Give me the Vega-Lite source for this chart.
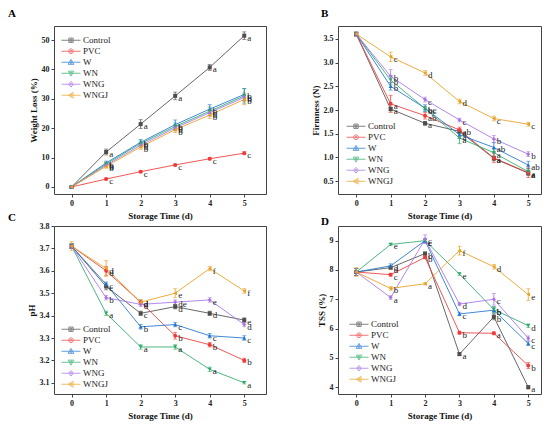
{
  "$schema": "https://vega.github.io/schema/vega-lite/v6.json",
  "padding": {"left": 7, "top": 7, "right": 0, "bottom": 0},
  "bounds": "flush",
  "columns": 2,
  "spacing": {"row": 32, "column": 72},
  "datasets": {
    "wl": [
      {"t": 0, "g": "Control", "v": 0, "e": 0.3, "l": ""},
      {"t": 1, "g": "Control", "v": 11.9, "e": 1.0, "l": "a"},
      {"t": 2, "g": "Control", "v": 21.4, "e": 1.5, "l": "a"},
      {"t": 3, "g": "Control", "v": 31.0, "e": 1.3, "l": "a"},
      {"t": 4, "g": "Control", "v": 40.7, "e": 1.0, "l": "a"},
      {"t": 5, "g": "Control", "v": 51.5, "e": 1.3, "l": "a"},
      {"t": 0, "g": "PVC", "v": 0, "e": 0.2, "l": ""},
      {"t": 1, "g": "PVC", "v": 2.7, "e": 0.3, "l": "c"},
      {"t": 2, "g": "PVC", "v": 5.2, "e": 0.3, "l": "c"},
      {"t": 3, "g": "PVC", "v": 7.5, "e": 0.3, "l": "c"},
      {"t": 4, "g": "PVC", "v": 9.6, "e": 0.4, "l": "c"},
      {"t": 5, "g": "PVC", "v": 11.5, "e": 0.5, "l": "c"},
      {"t": 0, "g": "W", "v": 0, "e": 0.2, "l": ""},
      {"t": 1, "g": "W", "v": 8.2, "e": 0.6, "l": "b"},
      {"t": 2, "g": "W", "v": 15.2, "e": 1.0, "l": "b"},
      {"t": 3, "g": "W", "v": 21.2, "e": 1.6, "l": "b"},
      {"t": 4, "g": "W", "v": 26.5, "e": 1.5, "l": "b"},
      {"t": 5, "g": "W", "v": 31.5, "e": 2.0, "l": "b"},
      {"t": 0, "g": "WN", "v": 0, "e": 0.2, "l": ""},
      {"t": 1, "g": "WN", "v": 7.8, "e": 0.6, "l": "b"},
      {"t": 2, "g": "WN", "v": 14.8, "e": 0.9, "l": "b"},
      {"t": 3, "g": "WN", "v": 20.6, "e": 1.2, "l": "b"},
      {"t": 4, "g": "WN", "v": 25.8, "e": 1.4, "l": "b"},
      {"t": 5, "g": "WN", "v": 31.0, "e": 2.5, "l": "b"},
      {"t": 0, "g": "WNG", "v": 0, "e": 0.2, "l": ""},
      {"t": 1, "g": "WNG", "v": 7.4, "e": 0.5, "l": "b"},
      {"t": 2, "g": "WNG", "v": 14.2, "e": 0.8, "l": "b"},
      {"t": 3, "g": "WNG", "v": 20.1, "e": 1.0, "l": "b"},
      {"t": 4, "g": "WNG", "v": 25.3, "e": 1.2, "l": "b"},
      {"t": 5, "g": "WNG", "v": 30.5, "e": 1.5, "l": "b"},
      {"t": 0, "g": "WNGJ", "v": 0, "e": 0.2, "l": ""},
      {"t": 1, "g": "WNGJ", "v": 7.0, "e": 0.6, "l": "b"},
      {"t": 2, "g": "WNGJ", "v": 13.6, "e": 0.8, "l": "b"},
      {"t": 3, "g": "WNGJ", "v": 19.5, "e": 1.0, "l": "b"},
      {"t": 4, "g": "WNGJ", "v": 24.5, "e": 1.2, "l": "b"},
      {"t": 5, "g": "WNGJ", "v": 29.8, "e": 1.8, "l": "b"}
    ],
    "fi": [
      {"t": 0, "g": "Control", "v": 3.6, "e": 0.04, "l": ""},
      {"t": 1, "g": "Control", "v": 2.02, "e": 0.04, "l": "a"},
      {"t": 2, "g": "Control", "v": 1.72, "e": 0.04, "l": "a"},
      {"t": 3, "g": "Control", "v": 1.55, "e": 0.05, "l": "a"},
      {"t": 4, "g": "Control", "v": 0.98, "e": 0.05, "l": "a"},
      {"t": 5, "g": "Control", "v": 0.67, "e": 0.05, "l": "a"},
      {"t": 0, "g": "PVC", "v": 3.6, "e": 0.04, "l": ""},
      {"t": 1, "g": "PVC", "v": 2.13, "e": 0.18, "l": "a"},
      {"t": 2, "g": "PVC", "v": 1.88, "e": 0.07, "l": "ab"},
      {"t": 3, "g": "PVC", "v": 1.58, "e": 0.06, "l": "ab"},
      {"t": 4, "g": "PVC", "v": 0.99, "e": 0.1, "l": "a"},
      {"t": 5, "g": "PVC", "v": 0.68, "e": 0.1, "l": "a"},
      {"t": 0, "g": "W", "v": 3.6, "e": 0.04, "l": ""},
      {"t": 1, "g": "W", "v": 2.5, "e": 0.08, "l": "b"},
      {"t": 2, "g": "W", "v": 2.04, "e": 0.07, "l": "bc"},
      {"t": 3, "g": "W", "v": 1.48, "e": 0.08, "l": "a"},
      {"t": 4, "g": "W", "v": 1.21, "e": 0.1, "l": "ab"},
      {"t": 5, "g": "W", "v": 0.84, "e": 0.08, "l": "ab"},
      {"t": 0, "g": "WN", "v": 3.6, "e": 0.04, "l": ""},
      {"t": 1, "g": "WN", "v": 2.63, "e": 0.1, "l": "b"},
      {"t": 2, "g": "WN", "v": 2.03, "e": 0.05, "l": "bc"},
      {"t": 3, "g": "WN", "v": 1.41, "e": 0.12, "l": "a"},
      {"t": 4, "g": "WN", "v": 1.1, "e": 0.08, "l": "a"},
      {"t": 5, "g": "WN", "v": 0.7, "e": 0.06, "l": "a"},
      {"t": 0, "g": "WNG", "v": 3.6, "e": 0.04, "l": ""},
      {"t": 1, "g": "WNG", "v": 2.71, "e": 0.14, "l": "b"},
      {"t": 2, "g": "WNG", "v": 2.22, "e": 0.05, "l": "c"},
      {"t": 3, "g": "WNG", "v": 1.79, "e": 0.04, "l": "c"},
      {"t": 4, "g": "WNG", "v": 1.39, "e": 0.07, "l": "b"},
      {"t": 5, "g": "WNG", "v": 1.07, "e": 0.05, "l": "b"},
      {"t": 0, "g": "WNGJ", "v": 3.6, "e": 0.04, "l": ""},
      {"t": 1, "g": "WNGJ", "v": 3.12, "e": 0.1, "l": "c"},
      {"t": 2, "g": "WNGJ", "v": 2.78, "e": 0.05, "l": "d"},
      {"t": 3, "g": "WNGJ", "v": 2.18, "e": 0.05, "l": "d"},
      {"t": 4, "g": "WNGJ", "v": 1.82, "e": 0.05, "l": "c"},
      {"t": 5, "g": "WNGJ", "v": 1.7, "e": 0.04, "l": "c"}
    ],
    "ph": [
      {"t": 0, "g": "Control", "v": 3.71, "e": 0.01, "l": ""},
      {"t": 1, "g": "Control", "v": 3.53, "e": 0.015, "l": "c"},
      {"t": 2, "g": "Control", "v": 3.41, "e": 0.01, "l": "c"},
      {"t": 3, "g": "Control", "v": 3.44, "e": 0.01, "l": "d"},
      {"t": 4, "g": "Control", "v": 3.41, "e": 0.01, "l": "d"},
      {"t": 5, "g": "Control", "v": 3.38, "e": 0.01, "l": "e"},
      {"t": 0, "g": "PVC", "v": 3.71, "e": 0.01, "l": ""},
      {"t": 1, "g": "PVC", "v": 3.6, "e": 0.02, "l": "d"},
      {"t": 2, "g": "PVC", "v": 3.46, "e": 0.01, "l": "d"},
      {"t": 3, "g": "PVC", "v": 3.31, "e": 0.015, "l": "b"},
      {"t": 4, "g": "PVC", "v": 3.27, "e": 0.01, "l": "b"},
      {"t": 5, "g": "PVC", "v": 3.2, "e": 0.01, "l": "b"},
      {"t": 0, "g": "W", "v": 3.71, "e": 0.01, "l": ""},
      {"t": 1, "g": "W", "v": 3.54, "e": 0.01, "l": "c"},
      {"t": 2, "g": "W", "v": 3.35, "e": 0.01, "l": "b"},
      {"t": 3, "g": "W", "v": 3.36, "e": 0.01, "l": "c"},
      {"t": 4, "g": "W", "v": 3.31, "e": 0.01, "l": "c"},
      {"t": 5, "g": "W", "v": 3.3, "e": 0.01, "l": "c"},
      {"t": 0, "g": "WN", "v": 3.71, "e": 0.01, "l": ""},
      {"t": 1, "g": "WN", "v": 3.41, "e": 0.01, "l": "a"},
      {"t": 2, "g": "WN", "v": 3.26, "e": 0.01, "l": "a"},
      {"t": 3, "g": "WN", "v": 3.26, "e": 0.01, "l": "a"},
      {"t": 4, "g": "WN", "v": 3.16, "e": 0.01, "l": "a"},
      {"t": 5, "g": "WN", "v": 3.1, "e": 0.005, "l": "a"},
      {"t": 0, "g": "WNG", "v": 3.71, "e": 0.01, "l": ""},
      {"t": 1, "g": "WNG", "v": 3.48, "e": 0.01, "l": "b"},
      {"t": 2, "g": "WNG", "v": 3.45, "e": 0.01, "l": "d"},
      {"t": 3, "g": "WNG", "v": 3.46, "e": 0.01, "l": "de"},
      {"t": 4, "g": "WNG", "v": 3.47, "e": 0.01, "l": "e"},
      {"t": 5, "g": "WNG", "v": 3.36, "e": 0.01, "l": "d"},
      {"t": 0, "g": "WNGJ", "v": 3.71, "e": 0.02, "l": ""},
      {"t": 1, "g": "WNGJ", "v": 3.61, "e": 0.035, "l": "d"},
      {"t": 2, "g": "WNGJ", "v": 3.46, "e": 0.01, "l": "d"},
      {"t": 3, "g": "WNGJ", "v": 3.5, "e": 0.02, "l": "e"},
      {"t": 4, "g": "WNGJ", "v": 3.61, "e": 0.01, "l": "f"},
      {"t": 5, "g": "WNGJ", "v": 3.51, "e": 0.01, "l": "f"}
    ],
    "tss": [
      {"t": 0, "g": "Control", "v": 7.93, "e": 0.12, "l": ""},
      {"t": 1, "g": "Control", "v": 8.08, "e": 0.05, "l": "d"},
      {"t": 2, "g": "Control", "v": 8.56, "e": 0.05, "l": "b"},
      {"t": 3, "g": "Control", "v": 5.13, "e": 0.05, "l": "a"},
      {"t": 4, "g": "Control", "v": 6.4, "e": 0.1, "l": "b"},
      {"t": 5, "g": "Control", "v": 4.0, "e": 0.05, "l": "a"},
      {"t": 0, "g": "PVC", "v": 7.93, "e": 0.12, "l": ""},
      {"t": 1, "g": "PVC", "v": 7.84, "e": 0.05, "l": "c"},
      {"t": 2, "g": "PVC", "v": 8.43, "e": 0.05, "l": "b"},
      {"t": 3, "g": "PVC", "v": 5.86, "e": 0.05, "l": "b"},
      {"t": 4, "g": "PVC", "v": 5.84, "e": 0.05, "l": "a"},
      {"t": 5, "g": "PVC", "v": 4.74, "e": 0.1, "l": "b"},
      {"t": 0, "g": "W", "v": 7.93, "e": 0.12, "l": ""},
      {"t": 1, "g": "W", "v": 8.14, "e": 0.07, "l": "d"},
      {"t": 2, "g": "W", "v": 9.0, "e": 0.08, "l": "c"},
      {"t": 3, "g": "W", "v": 6.5, "e": 0.06, "l": "c"},
      {"t": 4, "g": "W", "v": 6.63, "e": 0.1, "l": "b"},
      {"t": 5, "g": "W", "v": 5.49, "e": 0.06, "l": "c"},
      {"t": 0, "g": "WN", "v": 7.93, "e": 0.12, "l": ""},
      {"t": 1, "g": "WN", "v": 8.87, "e": 0.04, "l": "e"},
      {"t": 2, "g": "WN", "v": 9.0, "e": 0.05, "l": "c"},
      {"t": 3, "g": "WN", "v": 7.86, "e": 0.04, "l": "e"},
      {"t": 4, "g": "WN", "v": 6.65, "e": 0.1, "l": "b"},
      {"t": 5, "g": "WN", "v": 6.1, "e": 0.06, "l": "d"},
      {"t": 0, "g": "WNG", "v": 7.93, "e": 0.12, "l": ""},
      {"t": 1, "g": "WNG", "v": 7.06, "e": 0.06, "l": "a"},
      {"t": 2, "g": "WNG", "v": 9.05, "e": 0.15, "l": "c"},
      {"t": 3, "g": "WNG", "v": 6.84, "e": 0.06, "l": "d"},
      {"t": 4, "g": "WNG", "v": 7.0, "e": 0.2, "l": "c"},
      {"t": 5, "g": "WNG", "v": 5.67, "e": 0.08, "l": "c"},
      {"t": 0, "g": "WNGJ", "v": 7.93, "e": 0.15, "l": ""},
      {"t": 1, "g": "WNGJ", "v": 7.37, "e": 0.06, "l": "b"},
      {"t": 2, "g": "WNGJ", "v": 7.53, "e": 0.04, "l": "a"},
      {"t": 3, "g": "WNGJ", "v": 8.66, "e": 0.15, "l": "f"},
      {"t": 4, "g": "WNGJ", "v": 8.11, "e": 0.08, "l": "d"},
      {"t": 5, "g": "WNGJ", "v": 7.16, "e": 0.2, "l": "e"}
    ]
  },
  "concat": [
    {
      "width": 212, "height": 168,
      "title": {"text": "A", "anchor": "start", "frame": "group", "dx": -46, "offset": -2, "baseline": "alphabetic", "fontSize": 11, "font": "Liberation Serif", "fontWeight": "bold", "color": "#000"},
      "data": {"name": "wl"},
      "encoding": {
        "x": {"field": "t", "type": "quantitative", "scale": {"domain": [-0.51, 5.63], "nice": false, "zero": false}, "axis": {"values": [0, 1, 2, 3, 4, 5], "format": "d", "title": "Storage Time (d)"}},
        "y": {"field": "v", "type": "quantitative", "scale": {"domain": [-2.4, 54.8], "nice": false, "zero": false}, "axis": {"values": [0, 10, 20, 30, 40, 50], "title": "Weight Loss (%)"}}
      },
      "layer": [
        {"mark": {"type": "line", "strokeWidth": 1, "opacity": 0.85}, "encoding": {"color": {"field": "g", "type": "nominal", "scale": {"domain": ["Control", "PVC", "W", "WN", "WNG", "WNGJ"], "range": ["#4d4d4d", "#f03a3a", "#1f74d0", "#2eaa6a", "#a673e6", "#e8a020"]}, "legend": null}}},
        {"mark": {"type": "errorbar", "ticks": {"size": 4}, "thickness": 0.8}, "encoding": {"yError": {"field": "e"}, "color": {"field": "g", "type": "nominal", "scale": {"domain": ["Control", "PVC", "W", "WN", "WNG", "WNGJ"], "range": ["#4d4d4d", "#f03a3a", "#1f74d0", "#2eaa6a", "#a673e6", "#e8a020"]}, "legend": null}}},
        {"mark": {"type": "point", "filled": true, "size": 16, "opacity": 1}, "encoding": {"color": {"field": "g", "type": "nominal", "scale": {"domain": ["Control", "PVC", "W", "WN", "WNG", "WNGJ"], "range": ["#4d4d4d", "#f03a3a", "#1f74d0", "#2eaa6a", "#a673e6", "#e8a020"]}, "legend": null}, "shape": {"field": "g", "type": "nominal", "scale": {"domain": ["Control", "PVC", "W", "WN", "WNG", "WNGJ"], "range": ["square", "circle", "triangle-up", "triangle-down", "diamond", "triangle-left"]}, "legend": null}}},
        {"transform": [{"filter": "datum.l"}], "mark": {"type": "text", "align": "left", "baseline": "middle", "dx": 3, "dy": 2, "font": "Liberation Serif", "fontSize": 9, "color": "#222"}, "encoding": {"text": {"field": "l"}}},
        {
          "transform": [{"filter": "false"}],
          "mark": {"type": "point", "filled": false, "strokeWidth": 1},
          "encoding": {
            "color": {"field": "g", "type": "nominal", "scale": {"domain": ["Control", "PVC", "W", "WN", "WNG", "WNGJ"], "range": ["#4d4d4d", "#f03a3a", "#1f74d0", "#2eaa6a", "#a673e6", "#e8a020"]}, "legend": {"orient": "none", "legendX": 7, "legendY": 9, "title": null}},
            "shape": {"field": "g", "type": "nominal", "scale": {"domain": ["Control", "PVC", "W", "WN", "WNG", "WNGJ"], "range": ["M-1,0H1M-0.23,-0.23H0.23V0.23H-0.23ZM-0.1,-0.1H0.1V0.1H-0.1Z", "M-1,0H1M-0.25,0A0.25,0.25,0,1,0,0.25,0A0.25,0.25,0,1,0,-0.25,0ZM-0.1,0A0.1,0.1,0,1,0,0.1,0A0.1,0.1,0,1,0,-0.1,0Z", "M-1,0H1M0,-0.3L0.3,0.22L-0.3,0.22ZM0,-0.1L0.1,0.1L-0.1,0.1Z", "M-1,0H1M0,0.3L0.3,-0.22L-0.3,-0.22ZM0,0.1L0.1,-0.1L-0.1,-0.1Z", "M-1,0H1M0,-0.3L0.26,0L0,0.3L-0.26,0ZM0,-0.12L0.1,0L0,0.12L-0.1,0Z", "M-1,0H1M-0.3,0L0.22,-0.3L0.22,0.3ZM-0.1,0L0.1,-0.1L0.1,0.1Z"]}, "legend": {"orient": "none", "legendX": 7, "legendY": 9, "title": null}}
          }
        }
      ],
      "resolve": {"scale": {"shape": "independent", "color": "independent"}}
    },
    {
      "width": 203, "height": 168,
      "title": {"text": "B", "anchor": "start", "frame": "group", "dx": -17, "offset": -2, "baseline": "alphabetic", "fontSize": 11, "font": "Liberation Serif", "fontWeight": "bold", "color": "#000"},
      "data": {"name": "fi"},
      "encoding": {
        "x": {"field": "t", "type": "quantitative", "scale": {"domain": [-0.53, 5.37], "nice": false, "zero": false}, "axis": {"values": [0, 1, 2, 3, 4, 5], "format": "d", "title": "Storage Time (d)"}},
        "y": {"field": "v", "type": "quantitative", "scale": {"domain": [0.23, 3.77], "nice": false, "zero": false}, "axis": {"values": [0.5, 1, 1.5, 2, 2.5, 3, 3.5], "format": ".1f", "title": "Firmness (N)"}}
      },
      "layer": [
        {"mark": {"type": "line", "strokeWidth": 1, "opacity": 0.85}, "encoding": {"color": {"field": "g", "type": "nominal", "scale": {"domain": ["Control", "PVC", "W", "WN", "WNG", "WNGJ"], "range": ["#4d4d4d", "#f03a3a", "#1f74d0", "#2eaa6a", "#a673e6", "#e8a020"]}, "legend": null}}},
        {"mark": {"type": "errorbar", "ticks": {"size": 4}, "thickness": 0.8}, "encoding": {"yError": {"field": "e"}, "color": {"field": "g", "type": "nominal", "scale": {"domain": ["Control", "PVC", "W", "WN", "WNG", "WNGJ"], "range": ["#4d4d4d", "#f03a3a", "#1f74d0", "#2eaa6a", "#a673e6", "#e8a020"]}, "legend": null}}},
        {"mark": {"type": "point", "filled": true, "size": 16, "opacity": 1}, "encoding": {"color": {"field": "g", "type": "nominal", "scale": {"domain": ["Control", "PVC", "W", "WN", "WNG", "WNGJ"], "range": ["#4d4d4d", "#f03a3a", "#1f74d0", "#2eaa6a", "#a673e6", "#e8a020"]}, "legend": null}, "shape": {"field": "g", "type": "nominal", "scale": {"domain": ["Control", "PVC", "W", "WN", "WNG", "WNGJ"], "range": ["square", "circle", "triangle-up", "triangle-down", "diamond", "triangle-left"]}, "legend": null}}},
        {"transform": [{"filter": "datum.l"}], "mark": {"type": "text", "align": "left", "baseline": "middle", "dx": 3, "dy": 2, "font": "Liberation Serif", "fontSize": 9, "color": "#222"}, "encoding": {"text": {"field": "l"}}},
        {
          "transform": [{"filter": "false"}],
          "mark": {"type": "point", "filled": false, "strokeWidth": 1},
          "encoding": {
            "color": {"field": "g", "type": "nominal", "scale": {"domain": ["Control", "PVC", "W", "WN", "WNG", "WNGJ"], "range": ["#4d4d4d", "#f03a3a", "#1f74d0", "#2eaa6a", "#a673e6", "#e8a020"]}, "legend": {"orient": "none", "legendX": 8, "legendY": 95, "title": null}},
            "shape": {"field": "g", "type": "nominal", "scale": {"domain": ["Control", "PVC", "W", "WN", "WNG", "WNGJ"], "range": ["M-1,0H1M-0.23,-0.23H0.23V0.23H-0.23ZM-0.1,-0.1H0.1V0.1H-0.1Z", "M-1,0H1M-0.25,0A0.25,0.25,0,1,0,0.25,0A0.25,0.25,0,1,0,-0.25,0ZM-0.1,0A0.1,0.1,0,1,0,0.1,0A0.1,0.1,0,1,0,-0.1,0Z", "M-1,0H1M0,-0.3L0.3,0.22L-0.3,0.22ZM0,-0.1L0.1,0.1L-0.1,0.1Z", "M-1,0H1M0,0.3L0.3,-0.22L-0.3,-0.22ZM0,0.1L0.1,-0.1L-0.1,-0.1Z", "M-1,0H1M0,-0.3L0.26,0L0,0.3L-0.26,0ZM0,-0.12L0.1,0L0,0.12L-0.1,0Z", "M-1,0H1M-0.3,0L0.22,-0.3L0.22,0.3ZM-0.1,0L0.1,-0.1L0.1,0.1Z"]}, "legend": {"orient": "none", "legendX": 8, "legendY": 95, "title": null}}
          }
        }
      ],
      "resolve": {"scale": {"shape": "independent", "color": "independent"}}
    },
    {
      "width": 212, "height": 168,
      "title": {"text": "C", "anchor": "start", "frame": "group", "dx": -46, "offset": -10, "baseline": "alphabetic", "fontSize": 11, "font": "Liberation Serif", "fontWeight": "bold", "color": "#000"},
      "data": {"name": "ph"},
      "encoding": {
        "x": {"field": "t", "type": "quantitative", "scale": {"domain": [-0.51, 5.63], "nice": false, "zero": false}, "axis": {"values": [0, 1, 2, 3, 4, 5], "format": "d", "title": "Storage Time (d)"}},
        "y": {"field": "v", "type": "quantitative", "scale": {"domain": [3.05, 3.8], "nice": false, "zero": false}, "axis": {"values": [3.1, 3.2, 3.3, 3.4, 3.5, 3.6, 3.7, 3.8], "format": ".1f", "title": "pH"}}
      },
      "layer": [
        {"mark": {"type": "line", "strokeWidth": 1, "opacity": 0.85}, "encoding": {"color": {"field": "g", "type": "nominal", "scale": {"domain": ["Control", "PVC", "W", "WN", "WNG", "WNGJ"], "range": ["#4d4d4d", "#f03a3a", "#1f74d0", "#2eaa6a", "#a673e6", "#e8a020"]}, "legend": null}}},
        {"mark": {"type": "errorbar", "ticks": {"size": 4}, "thickness": 0.8}, "encoding": {"yError": {"field": "e"}, "color": {"field": "g", "type": "nominal", "scale": {"domain": ["Control", "PVC", "W", "WN", "WNG", "WNGJ"], "range": ["#4d4d4d", "#f03a3a", "#1f74d0", "#2eaa6a", "#a673e6", "#e8a020"]}, "legend": null}}},
        {"mark": {"type": "point", "filled": true, "size": 16, "opacity": 1}, "encoding": {"color": {"field": "g", "type": "nominal", "scale": {"domain": ["Control", "PVC", "W", "WN", "WNG", "WNGJ"], "range": ["#4d4d4d", "#f03a3a", "#1f74d0", "#2eaa6a", "#a673e6", "#e8a020"]}, "legend": null}, "shape": {"field": "g", "type": "nominal", "scale": {"domain": ["Control", "PVC", "W", "WN", "WNG", "WNGJ"], "range": ["square", "circle", "triangle-up", "triangle-down", "diamond", "triangle-left"]}, "legend": null}}},
        {"transform": [{"filter": "datum.l"}], "mark": {"type": "text", "align": "left", "baseline": "middle", "dx": 3, "dy": 2, "font": "Liberation Serif", "fontSize": 9, "color": "#222"}, "encoding": {"text": {"field": "l"}}},
        {
          "transform": [{"filter": "false"}],
          "mark": {"type": "point", "filled": false, "strokeWidth": 1},
          "encoding": {
            "color": {"field": "g", "type": "nominal", "scale": {"domain": ["Control", "PVC", "W", "WN", "WNG", "WNGJ"], "range": ["#4d4d4d", "#f03a3a", "#1f74d0", "#2eaa6a", "#a673e6", "#e8a020"]}, "legend": {"orient": "none", "legendX": 7, "legendY": 98, "title": null}},
            "shape": {"field": "g", "type": "nominal", "scale": {"domain": ["Control", "PVC", "W", "WN", "WNG", "WNGJ"], "range": ["M-1,0H1M-0.23,-0.23H0.23V0.23H-0.23ZM-0.1,-0.1H0.1V0.1H-0.1Z", "M-1,0H1M-0.25,0A0.25,0.25,0,1,0,0.25,0A0.25,0.25,0,1,0,-0.25,0ZM-0.1,0A0.1,0.1,0,1,0,0.1,0A0.1,0.1,0,1,0,-0.1,0Z", "M-1,0H1M0,-0.3L0.3,0.22L-0.3,0.22ZM0,-0.1L0.1,0.1L-0.1,0.1Z", "M-1,0H1M0,0.3L0.3,-0.22L-0.3,-0.22ZM0,0.1L0.1,-0.1L-0.1,-0.1Z", "M-1,0H1M0,-0.3L0.26,0L0,0.3L-0.26,0ZM0,-0.12L0.1,0L0,0.12L-0.1,0Z", "M-1,0H1M-0.3,0L0.22,-0.3L0.22,0.3ZM-0.1,0L0.1,-0.1L0.1,0.1Z"]}, "legend": {"orient": "none", "legendX": 7, "legendY": 98, "title": null}}
          }
        }
      ],
      "resolve": {"scale": {"shape": "independent", "color": "independent"}}
    },
    {
      "width": 203, "height": 168,
      "title": {"text": "D", "anchor": "start", "frame": "group", "dx": -17, "offset": -10, "baseline": "alphabetic", "fontSize": 11, "font": "Liberation Serif", "fontWeight": "bold", "color": "#000"},
      "data": {"name": "tss"},
      "encoding": {
        "x": {"field": "t", "type": "quantitative", "scale": {"domain": [-0.53, 5.37], "nice": false, "zero": false}, "axis": {"values": [0, 1, 2, 3, 4, 5], "format": "d", "title": "Storage Time (d)"}},
        "y": {"field": "v", "type": "quantitative", "scale": {"domain": [3.77, 9.5], "nice": false, "zero": false}, "axis": {"values": [4, 5, 6, 7, 8, 9], "format": "d", "title": "TSS (%)"}}
      },
      "layer": [
        {"mark": {"type": "line", "strokeWidth": 1, "opacity": 0.85}, "encoding": {"color": {"field": "g", "type": "nominal", "scale": {"domain": ["Control", "PVC", "W", "WN", "WNG", "WNGJ"], "range": ["#4d4d4d", "#f03a3a", "#1f74d0", "#2eaa6a", "#a673e6", "#e8a020"]}, "legend": null}}},
        {"mark": {"type": "errorbar", "ticks": {"size": 4}, "thickness": 0.8}, "encoding": {"yError": {"field": "e"}, "color": {"field": "g", "type": "nominal", "scale": {"domain": ["Control", "PVC", "W", "WN", "WNG", "WNGJ"], "range": ["#4d4d4d", "#f03a3a", "#1f74d0", "#2eaa6a", "#a673e6", "#e8a020"]}, "legend": null}}},
        {"mark": {"type": "point", "filled": true, "size": 16, "opacity": 1}, "encoding": {"color": {"field": "g", "type": "nominal", "scale": {"domain": ["Control", "PVC", "W", "WN", "WNG", "WNGJ"], "range": ["#4d4d4d", "#f03a3a", "#1f74d0", "#2eaa6a", "#a673e6", "#e8a020"]}, "legend": null}, "shape": {"field": "g", "type": "nominal", "scale": {"domain": ["Control", "PVC", "W", "WN", "WNG", "WNGJ"], "range": ["square", "circle", "triangle-up", "triangle-down", "diamond", "triangle-left"]}, "legend": null}}},
        {"transform": [{"filter": "datum.l"}], "mark": {"type": "text", "align": "left", "baseline": "middle", "dx": 3, "dy": 2, "font": "Liberation Serif", "fontSize": 9, "color": "#222"}, "encoding": {"text": {"field": "l"}}},
        {
          "transform": [{"filter": "false"}],
          "mark": {"type": "point", "filled": false, "strokeWidth": 1},
          "encoding": {
            "color": {"field": "g", "type": "nominal", "scale": {"domain": ["Control", "PVC", "W", "WN", "WNG", "WNGJ"], "range": ["#4d4d4d", "#f03a3a", "#1f74d0", "#2eaa6a", "#a673e6", "#e8a020"]}, "legend": {"orient": "none", "legendX": 11, "legendY": 93, "title": null}},
            "shape": {"field": "g", "type": "nominal", "scale": {"domain": ["Control", "PVC", "W", "WN", "WNG", "WNGJ"], "range": ["M-1,0H1M-0.23,-0.23H0.23V0.23H-0.23ZM-0.1,-0.1H0.1V0.1H-0.1Z", "M-1,0H1M-0.25,0A0.25,0.25,0,1,0,0.25,0A0.25,0.25,0,1,0,-0.25,0ZM-0.1,0A0.1,0.1,0,1,0,0.1,0A0.1,0.1,0,1,0,-0.1,0Z", "M-1,0H1M0,-0.3L0.3,0.22L-0.3,0.22ZM0,-0.1L0.1,0.1L-0.1,0.1Z", "M-1,0H1M0,0.3L0.3,-0.22L-0.3,-0.22ZM0,0.1L0.1,-0.1L-0.1,-0.1Z", "M-1,0H1M0,-0.3L0.26,0L0,0.3L-0.26,0ZM0,-0.12L0.1,0L0,0.12L-0.1,0Z", "M-1,0H1M-0.3,0L0.22,-0.3L0.22,0.3ZM-0.1,0L0.1,-0.1L0.1,0.1Z"]}, "legend": {"orient": "none", "legendX": 11, "legendY": 93, "title": null}}
          }
        }
      ],
      "resolve": {"scale": {"shape": "independent", "color": "independent"}}
    }
  ],
  "resolve": {"scale": {"x": "independent", "y": "independent", "color": "independent", "shape": "independent"}},
  "config": {
    "font": "Liberation Serif",
    "view": {"stroke": "#444", "strokeWidth": 1},
    "axis": {
      "grid": false,
      "domain": false,
      "tickColor": "#444",
      "tickSize": 3,
      "labelPadding": 2,
      "labelFont": "Liberation Serif",
      "labelFontWeight": "bold",
      "labelFontSize": 8,
      "labelColor": "#222",
      "titleFont": "Liberation Serif",
      "titleFontWeight": "bold",
      "titleFontSize": 9,
      "titleColor": "#111"
    },
    "axisY": {"titlePadding": 3},
    "axisX": {"titlePadding": 4},
    "legend": {
      "labelFont": "Liberation Serif",
      "labelFontSize": 9,
      "labelColor": "#222",
      "symbolSize": 361,
      "symbolStrokeWidth": 1,
      "clipHeight": 10.5,
      "rowPadding": 0,
      "padding": 0,
      "labelOffset": 2
    }
  }
}
